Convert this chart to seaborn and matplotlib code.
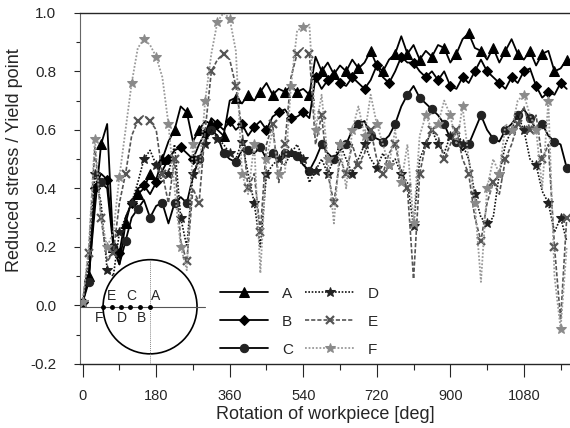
import numpy as np
import pandas as pd
import matplotlib
matplotlib.use("Agg")
import matplotlib.pyplot as plt
from matplotlib.patches import Ellipse
import seaborn as sns

# ---------------- data ----------------
rotation = list(range(0, 1190, 15))  # deg

series_A = [0.01, 0.10, 0.33, 0.55, 0.62, 0.20, 0.14, 0.28, 0.36, 0.38,
            0.40, 0.45, 0.43, 0.50, 0.56, 0.60, 0.68, 0.66, 0.56, 0.60,
            0.63, 0.62, 0.60, 0.58, 0.70, 0.71, 0.69, 0.72, 0.70, 0.73,
            0.76, 0.72, 0.74, 0.73, 0.75, 0.73, 0.74, 0.72, 0.85, 0.80,
            0.83, 0.79, 0.82, 0.80, 0.84, 0.81, 0.83, 0.87, 0.82, 0.80,
            0.84, 0.86, 0.92, 0.86, 0.89, 0.84, 0.87, 0.85, 0.89, 0.88,
            0.83, 0.86, 0.91, 0.93, 0.88, 0.87, 0.84, 0.88, 0.83, 0.87,
            0.91, 0.86, 0.84, 0.87, 0.82, 0.86, 0.87, 0.80, 0.81, 0.84]

series_B = [0.01, 0.10, 0.40, 0.45, 0.43, 0.22, 0.18, 0.30, 0.35, 0.40,
            0.41, 0.38, 0.42, 0.46, 0.50, 0.53, 0.54, 0.52, 0.50, 0.55,
            0.59, 0.64, 0.62, 0.60, 0.63, 0.60, 0.62, 0.58, 0.61, 0.63,
            0.60, 0.645, 0.66, 0.67, 0.64, 0.645, 0.66, 0.64, 0.78, 0.74,
            0.77, 0.80, 0.76, 0.75, 0.78, 0.76, 0.74, 0.77, 0.82, 0.78,
            0.76, 0.80, 0.85, 0.83, 0.83, 0.80, 0.78, 0.80, 0.77, 0.80,
            0.75, 0.74, 0.78, 0.76, 0.80, 0.84, 0.80, 0.78, 0.76, 0.74,
            0.78, 0.76, 0.80, 0.81, 0.75, 0.71, 0.73, 0.72, 0.76, 0.74]

series_C = [0.01, 0.08, 0.38, 0.42, 0.40, 0.20, 0.14, 0.22, 0.30, 0.33,
            0.36, 0.30, 0.34, 0.35, 0.28, 0.35, 0.37, 0.35, 0.44, 0.50,
            0.56, 0.60, 0.58, 0.52, 0.50, 0.49, 0.53, 0.53, 0.52, 0.54,
            0.50, 0.52, 0.50, 0.52, 0.51, 0.51, 0.48, 0.46, 0.50, 0.55,
            0.52, 0.50, 0.53, 0.55, 0.60, 0.62, 0.63, 0.58, 0.57, 0.56,
            0.58, 0.62, 0.68, 0.72, 0.75, 0.71, 0.69, 0.67, 0.65, 0.62,
            0.57, 0.56, 0.53, 0.55, 0.60, 0.65, 0.60, 0.57, 0.56, 0.60,
            0.62, 0.65, 0.67, 0.64, 0.60, 0.62, 0.58, 0.56, 0.55, 0.47]

series_D = [0.01, 0.15, 0.45, 0.35, 0.12, 0.10, 0.25, 0.30, 0.35, 0.42,
            0.50, 0.53, 0.48, 0.42, 0.45, 0.55, 0.30, 0.20, 0.45, 0.50,
            0.55, 0.60, 0.57, 0.55, 0.52, 0.50, 0.56, 0.45, 0.35, 0.20,
            0.45, 0.48, 0.50, 0.48, 0.52, 0.55, 0.50, 0.42, 0.46, 0.50,
            0.45, 0.50, 0.55, 0.50, 0.45, 0.50, 0.55, 0.50, 0.47, 0.52,
            0.48, 0.50, 0.45, 0.42, 0.27, 0.50, 0.55, 0.60, 0.55, 0.52,
            0.58, 0.60, 0.55, 0.50, 0.38, 0.30, 0.28, 0.30, 0.45, 0.55,
            0.60, 0.65, 0.60, 0.50, 0.48, 0.39, 0.35, 0.25, 0.30, 0.22]

series_E = [0.01, 0.18, 0.54, 0.30, 0.15, 0.18, 0.35, 0.45, 0.58, 0.63,
            0.65, 0.63, 0.60, 0.45, 0.35, 0.50, 0.22, 0.15, 0.40, 0.35,
            0.60, 0.80, 0.84, 0.86, 0.84, 0.75, 0.60, 0.40, 0.45, 0.25,
            0.55, 0.62, 0.42, 0.55, 0.78, 0.86, 0.88, 0.86, 0.55, 0.65,
            0.45, 0.35, 0.50, 0.45, 0.55, 0.48, 0.52, 0.60, 0.50, 0.45,
            0.52, 0.55, 0.45, 0.40, 0.09, 0.45, 0.55, 0.60, 0.58, 0.50,
            0.55, 0.60, 0.50, 0.45, 0.30, 0.22, 0.35, 0.42, 0.38, 0.50,
            0.55, 0.62, 0.68, 0.60, 0.65, 0.50, 0.55, 0.20, -0.05, 0.30]

series_F = [0.01, 0.20, 0.57, 0.30, 0.20, 0.25, 0.44, 0.60, 0.76, 0.88,
            0.91, 0.89, 0.85, 0.78, 0.62, 0.40, 0.20, 0.12, 0.55, 0.45,
            0.70, 0.86, 0.97, 1.00, 0.98, 0.87, 0.45, 0.38, 0.55, 0.11,
            0.50, 0.60, 0.45, 0.45, 0.75, 0.94, 0.95, 0.96, 0.60, 0.72,
            0.50, 0.28, 0.55, 0.40, 0.60, 0.68, 0.58, 0.72, 0.62, 0.55,
            0.48, 0.60, 0.42, 0.55, 0.28, 0.58, 0.65, 0.60, 0.62, 0.70,
            0.65, 0.55, 0.68, 0.50, 0.35, 0.08, 0.40, 0.50, 0.45, 0.62,
            0.60, 0.70, 0.72, 0.65, 0.60, 0.40, 0.70, 0.10, -0.08, 0.20]

series_names = ["A", "B", "C", "D", "E", "F"]
x_ticks = [0, 180, 360, 540, 720, 900, 1080]
y_ticks = [-0.2, 0.0, 0.2, 0.4, 0.6, 0.8, 1.0]

# inset sketch: measuring points along the diameter
point_names = ["F", "E", "D", "C", "B", "A"]
point_pos = [49, 71, 95, 117, 140, 164]

df = pd.DataFrame({"rotation": rotation, "A": series_A, "B": series_B,
                   "C": series_C, "D": series_D, "E": series_E, "F": series_F})

# ---------------- style ----------------
sns.set_style("ticks")
plt.rcParams["font.family"] = ["Liberation Sans", "DejaVu Sans"]

styles = {
    "A": dict(color="black", linestyle="-", lw=1.3, marker="^", ms=7, mfc="black", mec="black", markevery=(1, 2)),
    "B": dict(color="black", linestyle="-", lw=1.3, marker="D", ms=5, mfc="black", mec="black", markevery=(0, 2)),
    "C": dict(color="black", linestyle="-", lw=1.3, marker="o", ms=6, mfc="#222222", mec="#222222", markevery=(1, 2)),
    "D": dict(color="#111111", linestyle=(0, (1, 1)), lw=1.2, marker="*", ms=7, mfc="#222222", mec="#222222", markevery=(0, 2)),
    "E": dict(color="#555555", linestyle=(0, (2.5, 1.2)), lw=1.2, marker="x", ms=6, mew=1.6, mfc="#555555", mec="#555555", markevery=(1, 2)),
    "F": dict(color="#9a9a9a", linestyle=(0, (1, 1)), lw=1.3, marker="*", ms=7.5, mfc="#8a8a8a", mec="#8a8a8a", markevery=(0, 2)),
}

fig = plt.figure(figsize=(5.7, 4.28), dpi=100)
ax = fig.add_axes([0.140, 0.150, 0.860, 0.820])

for name in series_names:
    st = dict(styles[name])
    sns.lineplot(data=df, x="rotation", y=name, ax=ax, label=name,
                 estimator=None, sort=False, **st)

# inset schematic (circle with the measuring points)
ax.add_patch(Ellipse((165, -0.005), 230, 0.322, fill=False, edgecolor="black", lw=1.2, zorder=4))
ax.plot([-7, 300], [-0.005, -0.005], color="#555555", lw=0.8, zorder=4)
ax.plot([164, 164], [-0.2, 0.16], color="#888888", lw=0.7, linestyle=(0, (1, 1)), zorder=4)
ax.plot(point_pos, [-0.005] * len(point_pos), "o", color="black", ms=2.5, zorder=5)
label_dx = {"F": -8, "E": 0, "D": 1, "C": 2, "B": 3, "A": 14}
for name, pos in zip(point_names, point_pos):
    above = name in ("E", "C", "A")
    ax.text(pos + label_dx[name], 0.008 if above else -0.018, name,
            ha="center", va="bottom" if above else "top", fontsize=10, zorder=5)

ax.set_xlim(-7, 1193)
ax.set_ylim(-0.2, 1.0)
ax.set_xticks(x_ticks)
ax.set_xticks(np.arange(90, 1190, 180), minor=True)
ax.set_yticks(y_ticks)
ax.set_yticks(np.arange(-0.1, 1.0, 0.2), minor=True)
ax.set_yticklabels([f"{v:.1f}" for v in y_ticks])
ax.tick_params(axis="x", which="major", length=9, width=0.8, pad=9, labelsize=10.5, direction="out")
ax.tick_params(axis="x", which="minor", length=4, width=0.8, direction="out")
ax.tick_params(axis="y", which="major", length=4, width=0.8, pad=13, labelsize=11, direction="out")
ax.tick_params(axis="y", which="minor", length=3, width=0.8, direction="out")

ax.spines["right"].set_visible(False)
ax.spines["top"].set_linewidth(1.0)
ax.spines["bottom"].set_linewidth(1.0)
ax.spines["left"].set_linewidth(0.8)
ax.spines["left"].set_color("#666666")

ax.set_xlabel("Rotation of workpiece [deg]", fontsize=13, labelpad=2)
ax.set_ylabel("Reduced stress / Yield point", fontsize=13)
ax.yaxis.set_label_coords(-0.115, 0.58)

ax.legend(loc="upper left", bbox_to_anchor=(0.257, 0.259), ncol=2, frameon=False,
          fontsize=11, handlelength=3.2, handletextpad=0.9, columnspacing=0.8,
          labelspacing=0.92)

fig.savefig("out.png", dpi=100)
